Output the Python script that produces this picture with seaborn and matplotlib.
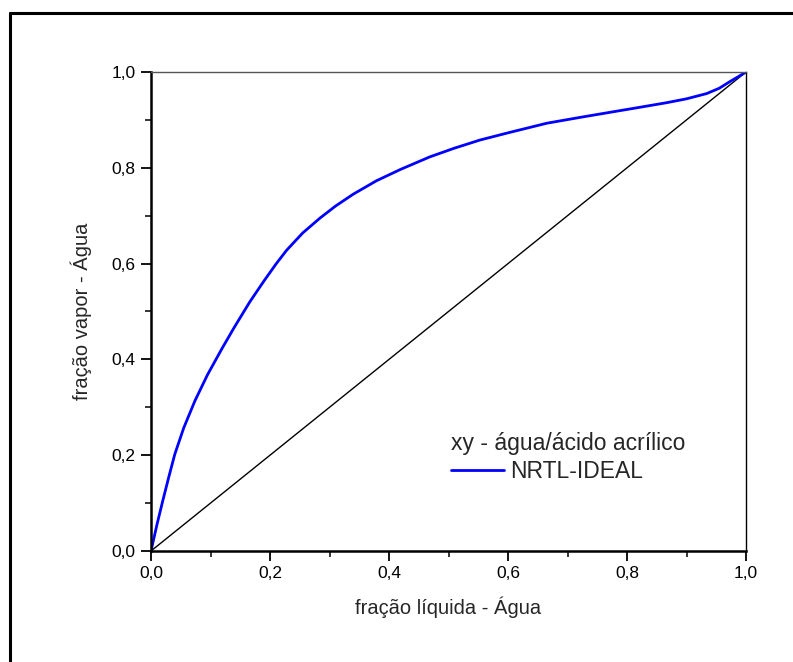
import matplotlib
matplotlib.use("Agg")
import matplotlib.pyplot as plt
import matplotlib.ticker as mticker
from matplotlib.lines import Line2D
import seaborn as sns
import pandas as pd

# data
x_liq = [0.0, 0.010, 0.020, 0.030, 0.040, 0.055, 0.074, 0.095, 0.119, 0.140,
         0.166, 0.190, 0.210, 0.228, 0.255, 0.284, 0.310, 0.340, 0.379, 0.420,
         0.469, 0.510, 0.553, 0.600, 0.665, 0.720, 0.777, 0.820, 0.867, 0.900,
         0.934, 0.955, 0.973, 0.988, 1.0]
y_vap = [0.0, 0.055, 0.106, 0.155, 0.202, 0.257, 0.314, 0.368, 0.422, 0.467,
         0.520, 0.564, 0.599, 0.628, 0.664, 0.695, 0.720, 0.745, 0.773, 0.797,
         0.823, 0.841, 0.858, 0.873, 0.893, 0.905, 0.917, 0.926, 0.936, 0.944,
         0.955, 0.966, 0.980, 0.991, 1.0]
diag = [0.0, 1.0]
series_name = "NRTL-IDEAL"
legend_title = "xy - água/ácido acrílico"
xlabel = "fração líquida - Água"
ylabel = "fração vapor - Água"

sns.set_style("white")
plt.rcParams["font.family"] = ["Liberation Sans", "DejaVu Sans"]

df = pd.DataFrame({"x": x_liq, "y": y_vap, "s": series_name})
df_diag = pd.DataFrame({"x": diag, "y": diag})

fig = plt.figure(figsize=(7.93, 6.62), dpi=100)
ax = fig.add_axes([151/793, 1-551/662, 595/793, 479/662])

sns.lineplot(data=df_diag, x="x", y="y", ax=ax, color="black", lw=1.0, legend=False)
sns.lineplot(data=df, x="x", y="y", ax=ax, color="#0000ff", lw=2.0, legend=False)

ax.set_xlim(0, 1)
ax.set_ylim(0, 1)
ax.xaxis.set_major_locator(mticker.MultipleLocator(0.2))
ax.yaxis.set_major_locator(mticker.MultipleLocator(0.2))
ax.xaxis.set_minor_locator(mticker.MultipleLocator(0.1))
ax.yaxis.set_minor_locator(mticker.MultipleLocator(0.1))
fmt = mticker.FuncFormatter(lambda v, p: f"{v:.1f}".replace(".", ","))
ax.xaxis.set_major_formatter(fmt)
ax.yaxis.set_major_formatter(fmt)
ax.tick_params(which="major", direction="out", length=7, width=1.3, labelsize=12.5,
               bottom=True, left=True, top=False, right=False, colors="black", pad=4)
ax.tick_params(which="minor", direction="out", length=4, width=1.3,
               bottom=True, left=True, top=False, right=False)
for s in ["left", "bottom"]:
    ax.spines[s].set_linewidth(1.8)
    ax.spines[s].set_color("black")
ax.spines["right"].set_linewidth(1.0)
ax.spines["right"].set_color("black")
ax.spines["top"].set_linewidth(1.0)
ax.spines["top"].set_color("#555555")

ax.set_xlabel(xlabel, fontsize=14.5, labelpad=11)
ax.set_ylabel(ylabel, fontsize=14.5, labelpad=14)

handle = Line2D([], [], color="#0000ff", lw=2.0)
leg = ax.legend([handle], [series_name], title=legend_title, frameon=False,
                fontsize=16.5, title_fontsize=16.5, loc="upper left",
                bbox_to_anchor=(0.505, 0.249), handlelength=2.3,
                handletextpad=0.25, borderaxespad=0, labelspacing=0.2, borderpad=0)
leg._legend_box.align = "left"
leg._legend_box.sep = 4

# outer frame (top and left edges visible)
fig.add_artist(Line2D([10/793, 1.0], [1-13/662, 1-13/662], color="black", lw=2.2,
                      transform=fig.transFigure))
fig.add_artist(Line2D([10/793, 10/793], [0.0, 1-13/662], color="black", lw=2.2,
                      transform=fig.transFigure))

fig.savefig("out.png", dpi=100)
